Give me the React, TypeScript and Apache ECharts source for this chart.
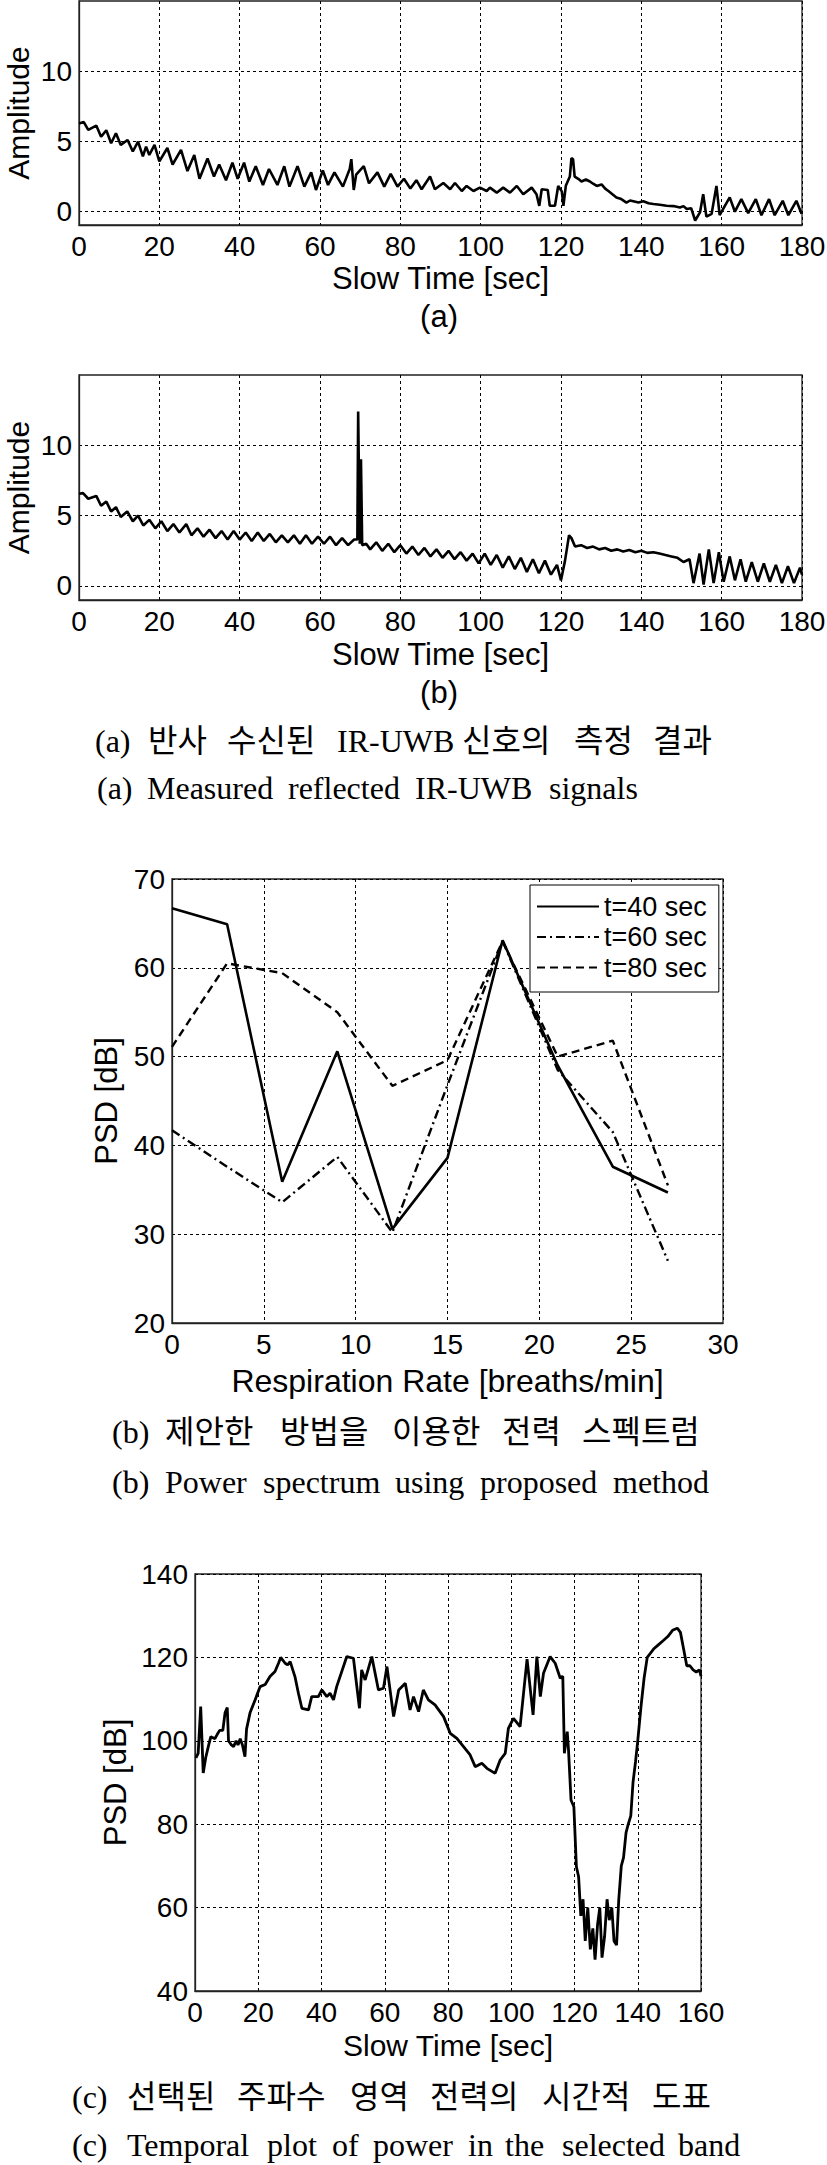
import React, { useEffect, useRef } from "react";
import * as echarts from "echarts";

// ---------- data ----------
const aTimes = [0, 1.2, 2.3, 4.3, 5.5, 6.8, 8.0, 9.2, 10.4, 12.1, 13.4, 14.7, 15.9, 16.7, 17.5, 18.8, 20.0, 22.0, 23.3, 25.4, 27.0, 28.7, 30.0, 32.0, 33.6, 34.9, 36.6, 38.2, 39.5, 41.1, 42.4, 44.0, 45.8, 47.3, 49.4, 51.1, 52.4, 54.4, 56.1, 57.8, 59.0, 60.7, 62.0, 63.6, 65.7, 67.4, 67.8, 68.4, 69.0, 70.9, 72.2, 74.3, 76.0, 77.6, 79.3, 80.9, 82.5, 84.0, 85.3, 87.4, 88.6, 90.7, 92.4, 93.6, 95.3, 96.5, 98.2, 99.8, 101.5, 102.3, 104.0, 105.6, 107.3, 109.0, 110.6, 112.7, 113.9, 114.6, 115.2, 116.7, 117.2, 118.5, 119.3, 120.2, 120.6, 121.2, 122.2, 122.6, 123.0, 123.4, 124.3, 125.1, 126.2, 127.2, 128.0, 128.9, 130.1, 131.0, 131.8, 132.8, 133.8, 135.0, 136.3, 137.2, 138.0, 139.3, 140.5, 141.8, 143.0, 144.6, 146.3, 148.0, 149.6, 150.5, 151.3, 152.4, 153.4, 154.6, 155.4, 156.2, 157.5, 158.7, 159.5, 160.8, 162.0, 163.3, 164.9, 166.6, 168.5, 169.9, 171.8, 173.2, 175.2, 176.6, 178.6, 179.9];
const aValues = [6.25, 6.35, 5.8, 6.1, 5.3, 5.77, 4.84, 5.55, 4.72, 5.07, 4.25, 4.95, 3.9, 4.6, 4.0, 4.72, 3.55, 4.5, 3.32, 4.37, 2.85, 4.0, 2.3, 3.75, 2.46, 3.32, 2.2, 3.45, 2.3, 3.45, 2.1, 3.2, 1.86, 3.0, 1.86, 3.2, 1.74, 3.2, 1.74, 2.76, 1.5, 2.9, 1.86, 2.76, 1.74, 3.0, 3.7, 1.5, 2.6, 3.2, 1.98, 2.76, 1.74, 2.65, 1.74, 2.3, 1.6, 2.2, 1.55, 2.46, 1.55, 2.0, 1.55, 2.0, 1.43, 1.79, 1.43, 1.67, 1.43, 1.67, 1.31, 1.67, 1.31, 1.79, 1.2, 1.67, 1.2, 0.37, 1.55, 1.5, 0.37, 0.37, 1.79, 1.4, 0.37, 1.8, 2.46, 3.78, 3.7, 2.46, 2.3, 2.11, 2.25, 2.11, 1.95, 1.79, 1.9, 1.6, 1.43, 1.2, 0.97, 0.85, 0.6, 0.75, 0.7, 0.6, 0.7, 0.55, 0.5, 0.45, 0.37, 0.35, 0.25, 0.35, 0.14, 0.2, -0.68, -0.1, 1.2, -0.4, -0.2, 1.79, -0.3, 0.37, 0.97, -0.05, 0.85, -0.15, 0.85, -0.3, 0.85, -0.3, 0.73, -0.3, 0.73, -0.2];

const bTimes = [0, 1, 2.3, 4.3, 5.5, 6.8, 8, 9.2, 10.4, 12, 13.4, 14.7, 16, 17.5, 19, 20.5, 22, 23.5, 25, 26.7, 28, 29.5, 31, 32.5, 34, 35.5, 37, 38.5, 40, 41.5, 43, 44.5, 46, 47.5, 49, 50.5, 52, 53.5, 55, 56.5, 58, 59.5, 61, 62.5, 64, 65.5, 67, 68.5, 69.3, 69.5, 69.9, 70.2, 70.5, 71.5, 72.5, 74, 75.5, 77, 78.5, 80, 81.5, 83, 84.5, 86, 87.5, 89, 90.5, 92, 93.5, 95, 96.5, 98, 99.5, 101, 102.5, 104, 105.5, 107, 108.5, 110, 111.5, 113, 114.5, 116, 117.5, 119, 120, 121, 122, 122.6, 123.5, 125, 126.5, 128, 129.5, 131, 132.5, 134, 135.5, 137, 138.5, 140, 141.5, 143, 144.5, 146, 147.5, 149, 150.5, 152, 153, 154.5, 155.5, 156.8, 158, 159.3, 160.5, 162, 163.3, 164.7, 166, 167.5, 169, 170.5, 172, 173.5, 175, 176.5, 178, 179.5, 180];
const bValues = [6.55, 6.6, 6.2, 6.4, 5.7, 6.0, 5.3, 5.6, 4.9, 5.3, 4.6, 5.0, 4.3, 4.7, 4.1, 4.6, 3.9, 4.4, 3.8, 4.4, 3.6, 4.1, 3.5, 4.0, 3.4, 3.9, 3.3, 3.9, 3.3, 3.8, 3.2, 3.8, 3.2, 3.7, 3.1, 3.6, 3.1, 3.6, 3.0, 3.6, 3.0, 3.5, 3.0, 3.5, 2.9, 3.4, 2.9, 3.3, 3.3, 12.4, 3.0, 9.0, 2.9, 3.0, 2.6, 3.1, 2.5, 3.0, 2.4, 2.9, 2.3, 2.8, 2.2, 2.7, 2.1, 2.6, 2.0, 2.5, 1.9, 2.4, 1.8, 2.3, 1.6, 2.3, 1.5, 2.2, 1.3, 2.1, 1.2, 2.0, 1.0, 1.9, 0.9, 1.8, 0.8, 1.5, 0.4, 1.8, 3.6, 3.4, 2.8, 2.9, 2.7, 2.8, 2.6, 2.7, 2.5, 2.6, 2.45, 2.55, 2.4, 2.5, 2.35, 2.4, 2.3, 2.2, 2.1, 2.0, 1.7, 1.9, 0.2, 2.3, 0.1, 2.6, 0.2, 2.4, 0.3, 2.1, 0.4, 1.9, 0.3, 1.7, 0.3, 1.6, 0.3, 1.5, 0.2, 1.4, 0.2, 1.3, 0.8];
const ampTicks = [0, 5, 10];

const psdRates = [0, 3, 6, 9, 12, 15, 18, 21, 24, 27];
const psd40 = [66.7, 64.9, 35.9, 50.6, 30.6, 38.6, 63.1, 49.0, 37.6, 34.7];
const psd60 = [41.7, 37.6, 33.6, 38.7, 30.2, 46.8, 63.0, 48.5, 41.5, 27.0];
const psd80 = [51.1, 60.5, 59.4, 55.0, 46.7, 49.6, 63.0, 50.0, 51.8, 35.5];
const psdNames = ["t=40 sec", "t=60 sec", "t=80 sec"];

const cTimes = [0.3, 1.0, 1.8, 2.6, 3.4, 4.2, 5.0, 6.3, 7.0, 7.8, 8.8, 9.5, 10.2, 10.6, 11.5, 12.2, 13.0, 13.6, 14.3, 15.0, 15.8, 16.3, 17.4, 19.0, 20.6, 22.2, 23.7, 25.3, 26.4, 27.1, 28.5, 29.3, 30.1, 31.6, 32.7, 33.8, 35.9, 36.9, 39.0, 40.1, 41.7, 42.7, 43.8, 44.8, 48.0, 50.1, 52.0, 52.7, 53.8, 55.9, 58.0, 59.6, 60.7, 62.8, 64.4, 66.5, 68.0, 69.1, 70.7, 72.2, 73.8, 75.9, 78.6, 80.7, 82.8, 87.0, 88.6, 90.7, 92.3, 94.9, 96.5, 98.1, 99.1, 100.7, 102.8, 105.0, 106.9, 108.1, 109.2, 110.2, 112.3, 113.9, 115.5, 116.3, 116.8, 117.7, 118.1, 118.9, 119.8, 120.6, 121.3, 122.0, 122.7, 123.4, 124.2, 125.0, 125.8, 126.5, 127.3, 128.0, 128.7, 129.5, 130.3, 131.0, 131.8, 132.5, 133.3, 134.0, 134.8, 135.5, 136.3, 137.0, 137.8, 138.5, 139.3, 140.0, 141.0, 142.0, 143.0, 144.0, 145.0, 146.5, 148.0, 149.5, 151.0, 152.5, 153.5, 154.5, 155.5, 156.5, 157.5, 158.5, 159.5, 160.0];
const cValues = [95.9, 97, 108.2, 92.3, 96, 98.6, 101, 100.5, 101.5, 102.5, 102.5, 106.7, 108, 100, 99, 98.6, 100, 99, 100.5, 99, 96.2, 102.8, 106.7, 109.8, 113, 113.5, 115.4, 116.6, 118.6, 120, 118.6, 118.2, 119, 115.4, 111.4, 107.8, 107.4, 110.6, 110.6, 112.2, 110.6, 111.4, 109.8, 113, 120.2, 119.8, 107.8, 117, 114.6, 120.2, 112.2, 112.6, 117.8, 105.8, 112.2, 113.8, 107.4, 110.6, 107, 112.2, 109.8, 108.6, 105.8, 101.8, 100.6, 96.6, 93.8, 94.6, 93.4, 92.2, 95.4, 97, 103, 105.4, 103.4, 119.6, 106.2, 120.2, 110.6, 116.2, 120.2, 118.6, 115, 115.5, 97, 102.2, 97.9, 85.8, 84.2, 69.8, 67.4, 58, 62, 52, 60, 50, 55, 47.5, 56, 60, 48, 53, 62, 57, 60, 52, 51, 62, 70, 72, 78, 80, 82, 90, 95, 100, 108, 115, 120, 121, 122, 123, 124, 125, 126.5, 127, 126, 122, 118, 118, 117, 116.5, 117, 115.5];

// ---------- styling ----------
const SANS = "'Liberation Sans', Arial, sans-serif";
const SERIF = "'Liberation Serif', 'Times New Roman', 'Noto Sans CJK KR', serif";
const AXIS_COLOR = "#222";
const GRID_DASH = [3, 3];

const captions: { y: number; words: [string, number][] }[] = [
  { y: 741, words: [["(a)", 95], ["반사", 148], ["수신된", 227], ["IR-UWB", 337], ["신호의", 462], ["측정", 574], ["결과", 653]] },
  { y: 788, words: [["(a)", 97], ["Measured", 147], ["reflected", 288], ["IR-UWB", 415], ["signals", 549]] },
  { y: 1432, words: [["(b)", 112], ["제안한", 165], ["방법을", 280], ["이용한", 392], ["전력", 502], ["스펙트럼", 582]] },
  { y: 1482, words: [["(b)", 112], ["Power", 165], ["spectrum", 263], ["using", 395], ["proposed", 480], ["method", 613]] },
  { y: 2097, words: [["(c)", 72], ["선택된", 127], ["주파수", 237], ["영역", 350], ["전력의", 430], ["시간적", 542], ["도표", 652]] },
  { y: 2145, words: [["(c)", 72], ["Temporal", 127], ["plot", 267], ["of", 332], ["power", 373], ["in", 468], ["the", 505], ["selected", 562], ["band", 678]] },
];

function zip(xs: number[], ys: number[]) {
  return xs.map((x, i) => [x, ys[i]]);
}

function xAxisCfg(gridIndex: number, min: number, max: number, interval: number, name: string, nameSize: number, nameGap: number) {
  return {
    type: "value",
    gridIndex,
    min,
    max,
    interval,
    name,
    nameLocation: "middle",
    nameGap,
    nameMoveOverlap: false,
    nameTextStyle: { fontFamily: SANS, fontSize: nameSize, color: "#000" },
    axisLine: { show: true, onZero: false, lineStyle: { color: AXIS_COLOR, width: 1.3 } },
    axisTick: { show: false },
    axisLabel: { fontFamily: SANS, fontSize: 28, color: "#000", margin: 7, hideOverlap: false, showMinLabel: true, showMaxLabel: true },
    splitLine: { show: true, lineStyle: { color: "#000", width: 1, type: GRID_DASH } },
  };
}

function yAxisCfg(gridIndex: number, min: number, max: number, interval: number | undefined, name: string, nameSize: number, nameGap: number, custom?: number[]) {
  const cfg: any = {
    type: "value",
    gridIndex,
    min,
    max,
    name,
    nameLocation: "middle",
    nameGap,
    nameRotate: 90,
    nameMoveOverlap: false,
    nameTextStyle: { fontFamily: SANS, fontSize: nameSize, color: "#000" },
    axisLine: { show: true, onZero: false, lineStyle: { color: AXIS_COLOR, width: 1.3 } },
    axisTick: { show: false },
    axisLabel: { fontFamily: SANS, fontSize: 28, color: "#000", margin: 7, hideOverlap: false, showMinLabel: true, showMaxLabel: true },
    splitLine: { show: true, lineStyle: { color: "#000", width: 1, type: GRID_DASH } },
  };
  if (interval !== undefined) cfg.interval = interval;
  if (custom) {
    cfg.axisTick = { show: false, customValues: custom };
    cfg.axisLabel = { ...cfg.axisLabel, customValues: custom };
  }
  return cfg;
}

export default function App() {
  const ref = useRef<HTMLDivElement>(null);

  useEffect(() => {
    if (!ref.current) return;
    const chart = echarts.init(ref.current, undefined, { renderer: "svg" });

    const gridBase = { show: true, borderColor: AXIS_COLOR, borderWidth: 1.3, backgroundColor: "#fff", containLabel: false, outerBoundsMode: "none" };

    const graphic: any[] = [];
    graphic.push({
      type: "text", x: 439, y: 316,
      style: { text: "(a)", fontFamily: SANS, fontSize: 31, fill: "#000", align: "center", verticalAlign: "middle", textAlign: "center", textVerticalAlign: "middle" },
    });
    graphic.push({
      type: "text", x: 439, y: 692,
      style: { text: "(b)", fontFamily: SANS, fontSize: 31, fill: "#000", align: "center", verticalAlign: "middle", textAlign: "center", textVerticalAlign: "middle" },
    });
    captions.forEach((line) => {
      line.words.forEach(([w, x]) => {
        graphic.push({
          type: "text", x, y: line.y,
          style: { text: w, fontFamily: SERIF, fontSize: 32, fill: "#000", align: "left", verticalAlign: "middle", textAlign: "left", textVerticalAlign: "middle" },
        });
      });
    });

    const lineBase = { type: "line", showSymbol: false, symbol: "none", silent: true, animation: false };

    chart.setOption({
      animation: false,
      backgroundColor: "#fff",
      grid: [
        { ...gridBase, left: 79, top: 1, width: 723, height: 224 },
        { ...gridBase, left: 79, top: 375, width: 723, height: 225 },
        { ...gridBase, left: 172, top: 879, width: 551, height: 444 },
        { ...gridBase, left: 195, top: 1574, width: 506, height: 417 },
      ],
      xAxis: [
        xAxisCfg(0, 0, 180, 20, "Slow Time [sec]", 31, 38),
        xAxisCfg(1, 0, 180, 20, "Slow Time [sec]", 31, 39),
        xAxisCfg(2, 0, 30, 5, "Respiration Rate [breaths/min]", 32, 42),
        xAxisCfg(3, 0, 160, 20, "Slow Time [sec]", 30, 39),
      ],
      yAxis: [
        yAxisCfg(0, -1, 15, undefined, "Amplitude", 30, 46, ampTicks),
        yAxisCfg(1, -1, 15, undefined, "Amplitude", 30, 46, ampTicks),
        yAxisCfg(2, 20, 70, 10, "PSD [dB]", 31, 50),
        yAxisCfg(3, 40, 140, 20, "PSD [dB]", 31, 64),
      ],
      legend: {
        data: psdNames,
        left: 530,
        top: 885,
        orient: "vertical",
        padding: [8, 12, 11, 6],
        itemWidth: 62,
        itemHeight: 14,
        itemGap: 3.5,
        backgroundColor: "#fff",
        borderColor: "#000",
        borderWidth: 1,
        borderRadius: 0,
        selectedMode: false,
        itemStyle: { opacity: 0, borderWidth: 0 },
        textStyle: { fontFamily: SANS, fontSize: 27, color: "#000" },
      },
      series: [
        { ...lineBase, name: "a", xAxisIndex: 0, yAxisIndex: 0, data: zip(aTimes, aValues), lineStyle: { color: "#000", width: 2.6 } },
        { ...lineBase, name: "b", xAxisIndex: 1, yAxisIndex: 1, data: zip(bTimes, bValues), lineStyle: { color: "#000", width: 2.6 } },
        { ...lineBase, name: psdNames[0], xAxisIndex: 2, yAxisIndex: 2, data: zip(psdRates, psd40), itemStyle: { color: "#000" }, lineStyle: { color: "#000", width: 2.6, type: "solid" } },
        { ...lineBase, name: psdNames[1], xAxisIndex: 2, yAxisIndex: 2, data: zip(psdRates, psd60), itemStyle: { color: "#000" }, lineStyle: { color: "#000", width: 2.4, type: [9, 4, 2, 4] } },
        { ...lineBase, name: psdNames[2], xAxisIndex: 2, yAxisIndex: 2, data: zip(psdRates, psd80), itemStyle: { color: "#000" }, lineStyle: { color: "#000", width: 2.4, type: [8, 5] } },
        { ...lineBase, name: "c", xAxisIndex: 3, yAxisIndex: 3, data: zip(cTimes, cValues), lineStyle: { color: "#000", width: 2.8 } },
      ],
      graphic,
    });

    return () => chart.dispose();
  }, []);

  return (
    <div
      ref={ref}
      style={{ position: "absolute", left: 0, top: 0, width: 827, height: 2165, background: "#fff" }}
    />
  );
}
